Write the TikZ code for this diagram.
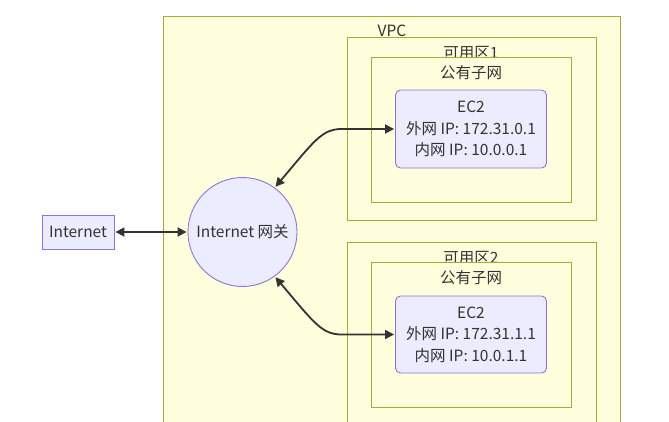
\documentclass[tikz,border=0pt]{standalone}
\usepackage{fontspec}
\setmainfont{Noto Sans CJK SC}
\usetikzlibrary{arrows.meta}
\definecolor{clfill}{HTML}{FFFFDE}
\definecolor{cldraw}{HTML}{AAAA33}
\definecolor{ndfill}{HTML}{ECECFF}
\definecolor{nddraw}{HTML}{9370DB}
\definecolor{txt}{HTML}{333333}
\tikzset{
  cluster/.style={fill=clfill,draw=cldraw,line width=0.9pt},
  clabel/.style={text=txt,font=\fontsize{15.5}{17}\selectfont,inner sep=0pt},
  nodebox/.style={fill=ndfill,draw=nddraw,line width=0.9pt,text=txt,font=\fontsize{15.5}{21.5}\selectfont,align=center,inner sep=0pt},
  arr/.style={draw=txt,line width=1.8pt,{Triangle[length=9pt,width=9pt]}-{Triangle[length=9pt,width=9pt]},shorten <=1pt,shorten >=1pt}
}
\begin{document}
\begin{tikzpicture}[x=1pt,y=-1pt]
\useasboundingbox (0,0) rectangle (669,421);
% VPC
\path[cluster] (163,16) rectangle (620,440);
\node[clabel] (vpcl) at (392,31) {VPC};
% AZ1
\path[cluster] (347,37) rectangle (596,220);
\node[clabel] (az1l) at (471,53) {可用区1};
\path[cluster] (371,57) rectangle (571,202);
\node[clabel] (sn1l) at (471,73) {公有子网};
% AZ2
\path[cluster] (347,242) rectangle (596,440);
\node[clabel] (az2l) at (471,258) {可用区2};
\path[cluster] (371,262) rectangle (571,407);
\node[clabel] (sn2l) at (471,278) {公有子网};
% EC2 nodes
\node[nodebox,rounded corners=5pt,minimum width=151pt,minimum height=78pt] (e1) at (471,129) {EC2\\外网 IP: 172.31.0.1\\内网 IP: 10.0.0.1};
\node[nodebox,rounded corners=5pt,minimum width=151pt,minimum height=77pt] (e2) at (471,334.5) {EC2\\外网 IP: 172.31.1.1\\内网 IP: 10.0.1.1};
% Internet
\node[nodebox,minimum width=72pt,minimum height=34pt] (inet) at (78,232) {Internet};
% Gateway
\node[nodebox,circle,minimum size=109pt] (gw) at (242.5,232) {Internet 网关};
% connectors
\draw[arr] (inet.east) -- (gw.west);
\draw[arr] (gw.54) .. controls (315,140) and (322,129) .. (342,129) -- (e1.west);
\draw[arr] (gw.-54) .. controls (315,324) and (322,334.5) .. (342,334.5) -- (e2.west);
\end{tikzpicture}
\end{document}
